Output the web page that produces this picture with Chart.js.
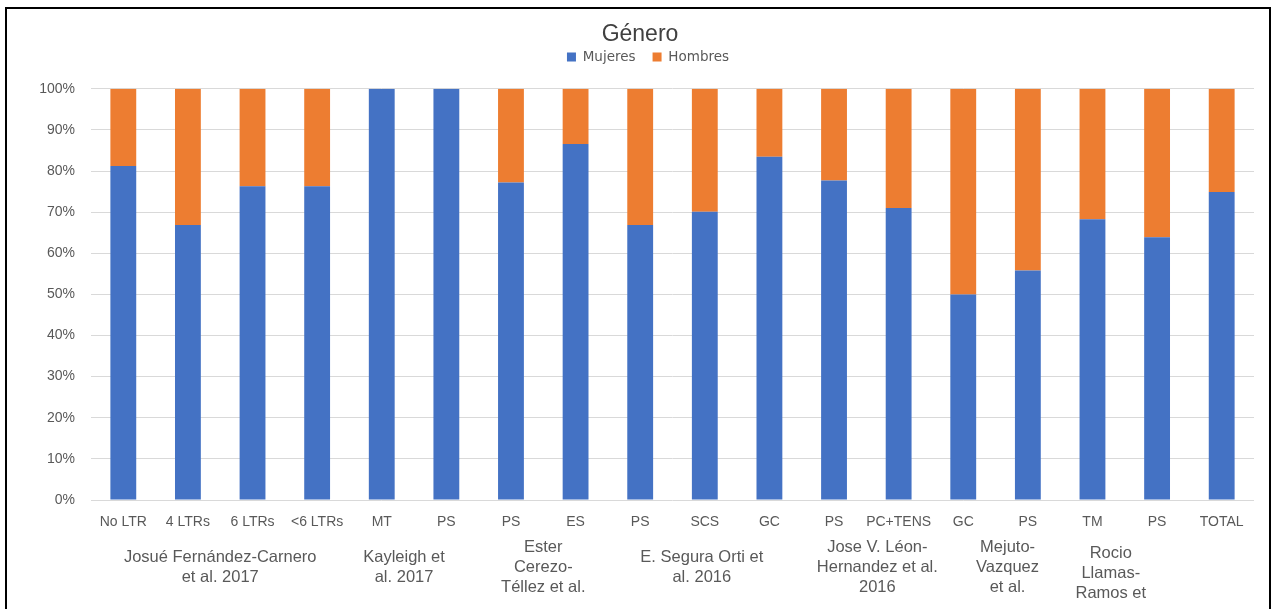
<!DOCTYPE html>
<html lang="es">
<head>
<meta charset="utf-8">
<title>Género</title>
<script src="https://cdn.jsdelivr.net/npm/chart.js@4"></script>
<style>
  html, body { margin: 0; padding: 0; background: #fff; overflow: hidden; }
  #wrap { position: relative; width: 1276px; height: 609px; }
  #chart { position: absolute; left: 0; top: 0; }
  #frame {
    position: absolute; left: 5px; top: 7px; width: 1262px; height: 640px;
    border: 2px solid #000; pointer-events: none;
  }
</style>
</head>
<body>
<div id="wrap">
  <canvas id="chart" width="1276" height="609"></canvas>
  <div id="frame"></div>
</div>
<script>
// Sub-group (intervention) labels along the x axis
const categories = ["No LTR", "4 LTRs", "6 LTRs", "<6 LTRs", "MT", "PS", "PS", "ES", "PS",
                    "SCS", "GC", "PS", "PC+TENS", "GC", "PS", "TM", "PS", "TOTAL"];

// Percentage of women / men in each sub-group
const mujeres = [81.2, 66.9, 76.3, 76.3, 100, 100, 77.2, 86.6, 66.9, 70.1, 83.5, 77.7, 71.0, 50.0, 55.8, 68.3, 63.9, 74.9];
const hombres = [18.8, 33.1, 23.7, 23.7, 0, 0, 22.8, 13.4, 33.1, 29.9, 16.5, 22.3, 29.0, 50.0, 44.2, 31.7, 36.1, 25.1];

// Study (author) labels spanning several sub-groups, already wrapped into lines
const studyLines = [
  ["Josué Fernández-Carnero", "et al. 2017"],
  ["Kayleigh et", "al. 2017"],
  ["Ester", "Cerezo-", "Téllez et al."],
  ["E. Segura Orti et", "al. 2016"],
  ["Jose V. Léon-", "Hernandez et al.", "2016"],
  ["Mejuto-", "Vazquez", "et al."],
  ["Rocio", "Llamas-", "Ramos et"]
];
const studyFirst = [0, 4, 6, 8, 11, 13, 15];
const studyLast  = [3, 5, 7, 10, 12, 14, 16];

const yTicks = [0, 10, 20, 30, 40, 50, 60, 70, 80, 90, 100];

const TEXT = "#595959";
const SANS = "'Liberation Sans', Arial, sans-serif";

// Draws the second level of x-axis labels (one per study).
// Each wrapped block sits slightly off its span centre, as the text boxes do.
const studyShiftX = [0, -10, 0, -3, 11, 12, -14];
const studyShiftY = [0, 0, 0, 0, 0, 0, 6];
const studyLabels = {
  id: "studyLabels",
  afterDraw(chart) {
    const x = chart.scales.x;
    const ctx = chart.ctx;
    ctx.save();
    ctx.font = "16.5px " + SANS;
    ctx.fillStyle = TEXT;
    ctx.textAlign = "center";
    ctx.textBaseline = "middle";
    const lh = 20;
    const mid = 567;
    studyLines.forEach((lines, g) => {
      const cx = (x.getPixelForValue(studyFirst[g]) + x.getPixelForValue(studyLast[g])) / 2 + studyShiftX[g];
      const y0 = mid - (lines.length - 1) * lh / 2 + studyShiftY[g];
      lines.forEach((t, i) => ctx.fillText(t, cx, y0 + i * lh));
    });
    ctx.restore();
  }
};

// Extra room between the legend and the plot area, legend nudged right
const legendTweak = {
  id: "legendTweak",
  afterInit(chart) {
    const legend = chart.legend;
    const fit = legend.fit;
    legend.fit = function () {
      fit.call(this);
      this.height += 15;
    };
    const draw = legend.draw;
    legend.draw = function () {
      const ctx = this.ctx;
      ctx.save();
      ctx.translate(8, 0);
      draw.call(this);
      ctx.restore();
    };
  }
};

new Chart(document.getElementById("chart"), {
  type: "bar",
  data: {
    labels: categories,
    datasets: [
      { label: "Mujeres", data: mujeres, backgroundColor: "#4472C4", barPercentage: 0.4, categoryPercentage: 1 },
      { label: "Hombres", data: hombres, backgroundColor: "#ED7D31", barPercentage: 0.4, categoryPercentage: 1 }
    ]
  },
  options: {
    responsive: false,
    animation: false,
    layout: { padding: { top: 0, right: 22, bottom: 0, left: 26 } },
    plugins: {
      title: {
        display: true,
        text: "Género",
        color: "#404040",
        font: { family: SANS, size: 23, weight: "normal", lineHeight: 1.1 },
        padding: { top: 22, bottom: -14 }
      },
      legend: {
        display: true,
        position: "top",
        labels: {
          color: TEXT,
          font: { family: "'DejaVu Sans', sans-serif", size: 13.5 },
          boxWidth: 9,
          boxHeight: 9,
          padding: 17
        }
      },
      tooltip: { enabled: false }
    },
    scales: {
      x: {
        stacked: true,
        grid: { display: false, drawTicks: false },
        border: { display: false },
        ticks: {
          color: TEXT,
          font: { family: SANS, size: 14 },
          maxRotation: 0,
          autoSkip: false,
          padding: 14
        },
        afterFit(s) { s.height = 109; }
      },
      y: {
        stacked: true,
        min: 0,
        max: 100,
        afterBuildTicks(s) { s.ticks = yTicks.map(v => ({ value: v })); },
        grid: { color: "#D9D9D9", lineWidth: 1, drawTicks: false },
        border: { display: false },
        ticks: {
          color: TEXT,
          font: { family: SANS, size: 14 },
          padding: 16,
          callback: v => v + "%"
        },
        afterFit(s) { s.width = 65; }
      }
    }
  },
  plugins: [studyLabels, legendTweak]
});
</script>
</body>
</html>
